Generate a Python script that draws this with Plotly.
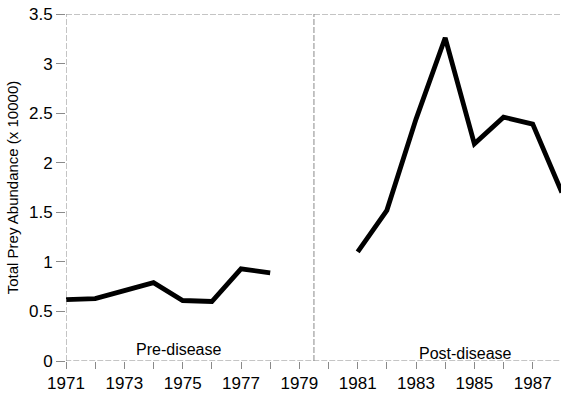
import plotly.graph_objects as go

pre_years = [1971, 1972, 1973, 1974, 1975, 1976, 1977, 1978]
pre_values = [0.62, 0.63, 0.71, 0.79, 0.61, 0.60, 0.93, 0.89]
post_years = [1981, 1982, 1983, 1984, 1985, 1986, 1987, 1988]
post_values = [1.10, 1.52, 2.44, 3.26, 2.19, 2.46, 2.39, 1.70]
x_tick_years = list(range(1971, 1988))
x_tick_labels = [str(y) if y % 2 == 1 else "" for y in x_tick_years]
y_tick_vals = [0, 0.5, 1, 1.5, 2, 2.5, 3, 3.5]
y_tick_labels = ["0", "0.5", "1", "1.5", "2", "2.5", "3", "3.5"]
period_labels = ["Pre-disease", "Post-disease"]
divider_year = 1979.5

font_family = "Liberation Sans, Arial, sans-serif"
axis_grey = "#8a8a8a"

fig = go.Figure()
fig.add_trace(go.Scatter(x=pre_years, y=pre_values, mode="lines",
                         line=dict(color="black", width=4.8), showlegend=False))
fig.add_trace(go.Scatter(x=post_years, y=post_values, mode="lines",
                         line=dict(color="black", width=4.8), showlegend=False))

dash = "6px,2px"
fig.add_shape(type="line", xref="x", yref="y", x0=1971, x1=1989, y0=3.5, y1=3.5,
              line=dict(color=axis_grey, width=1, dash=dash))
fig.add_shape(type="line", xref="x", yref="y", x0=1971, x1=1971, y0=0, y1=3.5,
              line=dict(color=axis_grey, width=1, dash=dash))
fig.add_shape(type="line", xref="x", yref="y", x0=1970.7, x1=1989, y0=0, y1=0,
              line=dict(color=axis_grey, width=1, dash=dash))
fig.add_shape(type="line", xref="x", yref="y", x0=divider_year, x1=divider_year, y0=0, y1=3.5,
              line=dict(color=axis_grey, width=1, dash=dash))

fig.add_annotation(x=1974.85, y=0.12, text=period_labels[0], showarrow=False,
                   xanchor="center", yanchor="middle",
                   font=dict(family=font_family, size=16, color="black"))
fig.add_annotation(x=1984.7, y=0.08, text=period_labels[1], showarrow=False,
                   xanchor="center", yanchor="middle",
                   font=dict(family=font_family, size=16, color="black"))

fig.update_xaxes(range=[1971, 1987.97], tickmode="array", tickvals=x_tick_years,
                 ticktext=x_tick_labels, ticks="outside", ticklen=7, tickcolor=axis_grey,
                 tickwidth=1, showgrid=False, zeroline=False, showline=False,
                 automargin=False,
                 tickfont=dict(family=font_family, size=17, color="black"))
fig.update_yaxes(range=[0, 3.5], tickmode="array", tickvals=y_tick_vals,
                 ticktext=y_tick_labels, ticks="outside", ticklen=9, tickcolor=axis_grey,
                 tickwidth=1, showgrid=False, zeroline=False, showline=False,
                 automargin=False,
                 tickfont=dict(family=font_family, size=17, color="black"),
                 title=dict(text="Total Prey Abundance (x 10000)", standoff=6,
                            font=dict(family=font_family, size=15, color="black")))

fig.update_layout(width=561, height=400, margin=dict(l=66, r=0, t=14, b=39),
                  paper_bgcolor="white", plot_bgcolor="white")

fig.write_html("out.html", config={"displayModeBar": False},
               post_script="document.body.style.margin='0';document.body.style.overflow='hidden';")
